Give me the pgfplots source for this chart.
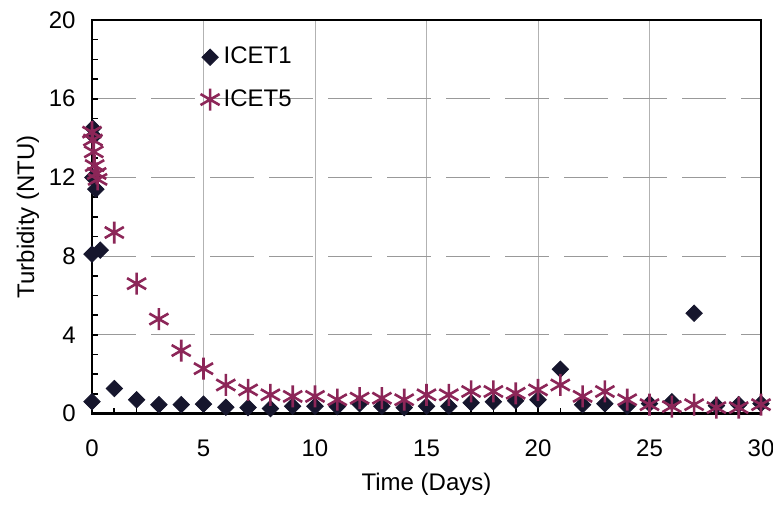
\documentclass[border=0pt]{standalone}
\usepackage{pgfplots}
\pgfplotsset{compat=1.18}
\usepackage{fontspec}
\setmainfont{Liberation Sans}
\definecolor{navy}{RGB}{22,22,45}
\definecolor{maroon}{RGB}{140,38,88}
\begin{document}
\fontsize{12}{14}\selectfont
\begin{tikzpicture}
\begin{axis}[
  scale only axis,
  width=334.5pt, height=196.75pt,
  xmin=0, xmax=30, ymin=0, ymax=20,
  xtick={0,5,...,30}, ytick={0,4,...,20},
  minor x tick num=4, minor y tick num=3,
  tick align=inside,
  xtick pos=bottom, ytick pos=left,
  major tick length=3pt, minor tick length=3pt,
  tick style={black, line width=0.8pt},
  axis line style={line width=1.2pt},
  grid=major,
  x grid style={gray!60, line width=0.4pt},
  y grid style={gray!80, line width=0.5pt, dash pattern=on 22pt off 7.5pt},
  /pgf/number format/assume math mode=true,
  ticklabel style={font=\fontsize{12}{14}\selectfont},
  yticklabel shift=4pt,
  xticklabel shift=9pt,
  xlabel={Time (Days)}, ylabel={Turbidity (NTU)},
  label style={font=\fontsize{12}{14}\selectfont},
  xlabel style={at={(axis description cs:0.5,-0.180)}, anchor=center},
  ylabel style={at={(axis description cs:-0.0957,0.5)}, anchor=center},
  clip=false,
  legend style={at={(axis cs:4.85,18.85)}, anchor=north west, draw=none, fill=none,
    font=\fontsize{12}{14}\selectfont, row sep=7pt, inner sep=0pt},
  legend cell align=left,
  legend image code/.code={\draw[#1] plot coordinates {(0.12cm,0cm)};},
]
\addplot[only marks, mark=square*, mark size=2.9pt, mark options={rotate=45, fill=navy, draw=navy}] coordinates {
(0,0.6) (0,8.1) (0.04,14.5) (0.08,14.1) (0.04,12.0) (0.17,11.4) (0.37,8.3)
(1,1.27) (2,0.7) (3,0.45) (4,0.45) (5,0.48) (6,0.32) (7,0.3) (8,0.25) (9,0.37)
(10,0.37) (11,0.35) (12,0.5) (13,0.37) (14,0.3) (15,0.37) (16,0.37) (17,0.55)
(18,0.6) (19,0.65) (20,0.7) (21,2.25) (22,0.45) (23,0.5) (24,0.37) (25,0.5)
(26,0.6) (27,5.1) (28,0.4) (29,0.45) (30,0.5)
};
\addlegendentry{ICET1}
\addplot[only marks, mark=asterisk, mark size=5.5pt, mark options={draw=maroon, line width=1.3pt}] coordinates {
(0,14.3) (0.04,13.9) (0.08,13.3) (0.12,12.6) (0.21,12.2) (0.25,11.9)
(1,9.2) (2,6.6) (3,4.8) (4,3.2) (5,2.28) (6,1.45) (7,1.2) (8,0.95) (9,0.87)
(10,0.87) (11,0.7) (12,0.78) (13,0.78) (14,0.7) (15,0.95) (16,0.95) (17,1.12)
(18,1.12) (19,1.03) (20,1.2) (21,1.45) (22,0.87) (23,1.12) (24,0.7) (25,0.45)
(26,0.35) (27,0.45) (28,0.3) (29,0.3) (30,0.45)
};
\addlegendentry{ICET5}
\end{axis}
\pgfresetboundingbox
\path ([shift={(-46pt,-48.75pt)}]current axis.south west) rectangle ([shift={(6pt,10pt)}]current axis.north east);
\end{tikzpicture}
\end{document}
